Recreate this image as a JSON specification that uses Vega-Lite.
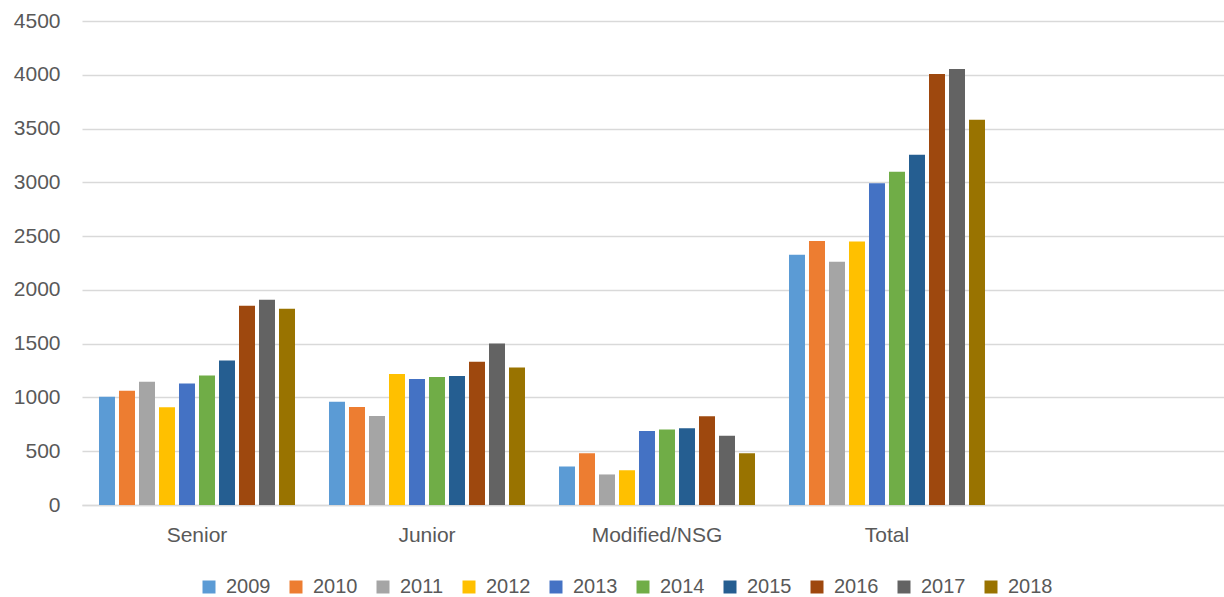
{
  "$schema": "https://vega.github.io/schema/vega-lite/v6.json",
  "width": 1142,
  "height": 484,
  "autosize": {"type": "none"},
  "padding": {"left": 82, "top": 21, "right": 0, "bottom": 92},
  "background": "white",
  "data": {
    "values": [
      {"cat": "Senior", "year": "2009", "value": 1007},
      {"cat": "Senior", "year": "2010", "value": 1063},
      {"cat": "Senior", "year": "2011", "value": 1147},
      {"cat": "Senior", "year": "2012", "value": 908},
      {"cat": "Senior", "year": "2013", "value": 1129},
      {"cat": "Senior", "year": "2014", "value": 1203},
      {"cat": "Senior", "year": "2015", "value": 1343},
      {"cat": "Senior", "year": "2016", "value": 1853},
      {"cat": "Senior", "year": "2017", "value": 1909},
      {"cat": "Senior", "year": "2018", "value": 1825},
      {"cat": "Junior", "year": "2009", "value": 961},
      {"cat": "Junior", "year": "2010", "value": 911},
      {"cat": "Junior", "year": "2011", "value": 827},
      {"cat": "Junior", "year": "2012", "value": 1219},
      {"cat": "Junior", "year": "2013", "value": 1172},
      {"cat": "Junior", "year": "2014", "value": 1191},
      {"cat": "Junior", "year": "2015", "value": 1200},
      {"cat": "Junior", "year": "2016", "value": 1331},
      {"cat": "Junior", "year": "2017", "value": 1502},
      {"cat": "Junior", "year": "2018", "value": 1278},
      {"cat": "Modified/NSG", "year": "2009", "value": 358},
      {"cat": "Modified/NSG", "year": "2010", "value": 481},
      {"cat": "Modified/NSG", "year": "2011", "value": 284},
      {"cat": "Modified/NSG", "year": "2012", "value": 324},
      {"cat": "Modified/NSG", "year": "2013", "value": 689},
      {"cat": "Modified/NSG", "year": "2014", "value": 701},
      {"cat": "Modified/NSG", "year": "2015", "value": 713},
      {"cat": "Modified/NSG", "year": "2016", "value": 824},
      {"cat": "Modified/NSG", "year": "2017", "value": 645},
      {"cat": "Modified/NSG", "year": "2018", "value": 481},
      {"cat": "Total", "year": "2009", "value": 2326},
      {"cat": "Total", "year": "2010", "value": 2455},
      {"cat": "Total", "year": "2011", "value": 2262},
      {"cat": "Total", "year": "2012", "value": 2451},
      {"cat": "Total", "year": "2013", "value": 2992},
      {"cat": "Total", "year": "2014", "value": 3098},
      {"cat": "Total", "year": "2015", "value": 3256},
      {"cat": "Total", "year": "2016", "value": 4008},
      {"cat": "Total", "year": "2017", "value": 4054},
      {"cat": "Total", "year": "2018", "value": 3583}
    ]
  },
  "mark": {"type": "bar"},
  "encoding": {
    "x": {
      "field": "cat",
      "type": "nominal",
      "sort": null,
      "scale": {
        "domain": ["Senior", "Junior", "Modified/NSG", "Total", " "],
        "range": [0, 1150],
        "paddingInner": 0.1304,
        "paddingOuter": 0.0652
      },
      "axis": {
        "title": null,
        "labelAngle": 0,
        "ticks": false,
        "labelPadding": 19,
        "labelFont": "Liberation Sans",
        "labelFontSize": 21,
        "labelColor": "#595959",
        "domainColor": "#d9d9d9",
        "domainWidth": 1.5,
        "grid": false
      }
    },
    "xOffset": {
      "field": "year",
      "type": "nominal",
      "scale": {"paddingInner": 0.2, "paddingOuter": 0.1}
    },
    "y": {
      "field": "value",
      "type": "quantitative",
      "scale": {"domain": [0, 4500], "nice": false},
      "axis": {
        "title": null,
        "values": [0, 500, 1000, 1500, 2000, 2500, 3000, 3500, 4000, 4500],
        "format": "d",
        "ticks": false,
        "domain": false,
        "labelPadding": 22,
        "labelFont": "Liberation Sans",
        "labelFontSize": 21,
        "labelColor": "#595959",
        "gridColor": "#d9d9d9",
        "gridWidth": 1.5
      }
    },
    "color": {
      "field": "year",
      "type": "nominal",
      "scale": {
        "domain": ["2009", "2010", "2011", "2012", "2013", "2014", "2015", "2016", "2017", "2018"],
        "range": ["#5B9BD5", "#ED7D31", "#A5A5A5", "#FFC000", "#4472C4", "#70AD47", "#255E91", "#9E480E", "#636363", "#997300"]
      },
      "legend": {
        "title": null,
        "orient": "none",
        "legendX": 117,
        "legendY": 556,
        "direction": "horizontal",
        "columns": 10,
        "padding": 0,
        "symbolType": "square",
        "symbolSize": 169,
        "symbolStrokeWidth": 0,
        "labelFont": "Liberation Sans",
        "labelFontSize": 20,
        "labelColor": "#595959",
        "labelOffset": 7,
        "columnPadding": 15
      }
    }
  },
  "config": {"view": {"stroke": null}}
}
